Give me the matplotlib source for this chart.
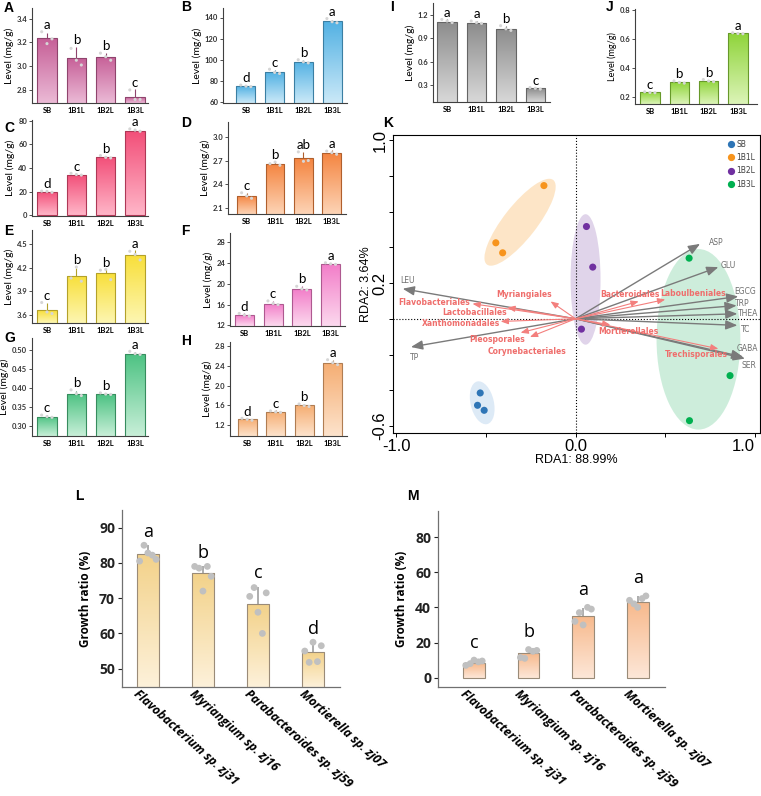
import numpy as np
import matplotlib
matplotlib.use('Agg')
import matplotlib.pyplot as plt
from matplotlib.colors import LinearSegmentedColormap, to_rgb
from matplotlib.patches import Ellipse
from matplotlib.lines import Line2D

plt.rcParams['font.family'] = ['Lato', 'DejaVu Sans']

groups = ['SB', '1B1L', '1B2L', '1B3L']

# ---- panels A-J (level, mg/g) ----
a_means = [3.235, 3.07, 3.08, 2.74]
a_err = [0.045, 0.09, 0.03, 0.065]
a_dots = [[3.29, 3.23, 3.19], [3.15, 3.01, 3.05], [3.11, 3.05, 3.08], [2.80, 2.72, 2.72]]
a_let = ['a', 'b', 'b', 'c']

b_means = [75, 88, 98, 136.5]
b_err = [1.0, 2.0, 2.0, 1.0]
b_dots = [[76, 74.5, 75], [91, 87, 88], [100, 97, 98], [139, 135, 136]]
b_let = ['d', 'c', 'b', 'a']

c_means = [20, 34.5, 49, 71.5]
c_err = [0.8, 1.0, 1.5, 1.5]
c_dots = [[20.5, 19.5, 20.3], [35.5, 34, 34.5], [50.5, 48.5, 49], [73, 71, 72]]
c_let = ['d', 'c', 'b', 'a']

d_means = [2.25, 2.66, 2.73, 2.80]
d_err = [0.04, 0.02, 0.08, 0.03]
d_dots = [[2.29, 2.22, 2.25], [2.66, 2.64, 2.68], [2.81, 2.70, 2.69], [2.82, 2.78, 2.80]]
d_let = ['c', 'b', 'ab', 'a']

e_means = [3.66, 4.10, 4.13, 4.36]
e_err = [0.09, 0.10, 0.05, 0.06]
e_dots = [[3.76, 3.62, 3.64], [4.07, 4.03, 4.21], [4.17, 4.05, 4.18], [4.41, 4.30, 4.37]]
e_let = ['c', 'b', 'b', 'a']

f_means = [14.0, 16.2, 19.0, 23.8]
f_err = [0.3, 0.5, 0.6, 0.15]
f_dots = [[14.3, 13.8, 14.0], [16.7, 16.0, 16.2], [19.5, 18.8, 19.0], [24.0, 23.7, 23.8]]
f_let = ['d', 'c', 'b', 'a']

g_means = [0.325, 0.385, 0.384, 0.490]
g_err = [0.003, 0.008, 0.003, 0.004]
g_dots = [[0.329, 0.323, 0.325], [0.395, 0.380, 0.385], [0.387, 0.383, 0.384], [0.496, 0.488, 0.490]]
g_let = ['c', 'b', 'b', 'a']

h_means = [1.32, 1.47, 1.60, 2.47]
h_err = [0.02, 0.03, 0.03, 0.05]
h_dots = [[1.34, 1.30, 1.32], [1.49, 1.46, 1.47], [1.63, 1.58, 1.60], [2.53, 2.43, 2.47]]
h_let = ['d', 'c', 'b', 'a']

i_means = [1.11, 1.10, 1.02, 0.26]
i_err = [0.03, 0.02, 0.04, 0.01]
i_dots = [[1.14, 1.10, 1.12], [1.12, 1.09, 1.10], [1.06, 1.00, 1.02], [0.27, 0.25, 0.26]]
i_let = ['a', 'a', 'b', 'c']

j_means = [0.23, 0.30, 0.31, 0.64]
j_err = [0.005, 0.01, 0.01, 0.005]
j_dots = [[0.235, 0.228, 0.230], [0.310, 0.295, 0.300], [0.320, 0.305, 0.310], [0.645, 0.638, 0.640]]
j_let = ['c', 'b', 'b', 'a']

# ---- panel K (RDA) ----
sb_x, sb_y = [-0.531, -0.546, -0.509], [-0.415, -0.484, -0.512]
b1_x, b1_y = [-0.176, -0.444, -0.406], [0.745, 0.425, 0.369]
b2_x, b2_y = [0.061, 0.096, 0.033], [0.516, 0.289, -0.058]
b3_x, b3_y = [0.633, 0.861, 0.635], [0.339, -0.318, -0.570]

env_names = ['ASP', 'GLU', 'EGCG', 'TRP', 'THEA', 'TC', 'GABA', 'SER', 'LEU', 'TP']
env_x = [0.694, 0.796, 0.907, 0.898, 0.902, 0.902, 0.935, 0.944, -0.963, -0.917]
env_y = [0.419, 0.289, 0.125, 0.074, 0.028, -0.037, -0.214, -0.223, 0.168, -0.158]

tax_names = ['Flavobacteriales', 'Lactobacillales', 'Xanthomonadales', 'Myriangiales',
             'Pleosporales', 'Corynebacteriales', 'Bacteroidales', 'Laboulbeniales',
             'Mortierellales', 'Trechisporales']
tax_x = [-0.574, -0.380, -0.417, -0.139, -0.306, -0.254, 0.352, 0.500, 0.194, 0.796]
tax_y = [0.084, 0.063, -0.015, 0.097, -0.078, -0.102, 0.097, 0.108, -0.034, -0.168]

# ---- panels L, M (growth ratio %) ----
strains = ['Flavobacterium sp. zj31', 'Myriangium sp. zj16',
           'Parabacteroides sp. zj59', 'Mortierella sp. zj07']
l_means = [82.5, 77.0, 68.3, 54.6]
l_err = [2.5, 2.2, 5.0, 2.8]
l_dots = [[80.5, 85.0, 82.8, 82.2, 81.0], [79.0, 78.5, 72.0, 79.0, 76.2],
          [70.5, 73.0, 66.0, 60.0, 71.5], [55.0, 51.8, 57.5, 52.0, 56.5]]
l_let = ['a', 'b', 'c', 'd']

m_means = [8.5, 13.8, 35.3, 43.2]
m_err = [1.5, 2.0, 4.5, 3.5]
m_dots = [[7.0, 8.0, 10.0, 9.0, 9.5], [11.5, 11.0, 16.0, 15.0, 15.5],
          [32.0, 37.0, 30.0, 40.0, 39.0], [44.0, 42.0, 40.0, 45.0, 46.5]]
m_let = ['c', 'b', 'a', 'a']

W, H = 761, 796
fig = plt.figure(figsize=(W / 100, H / 100), dpi=100)


def px_ax(x0, y0, x1, y1):
    return fig.add_axes([x0 / W, 1 - y1 / H, (x1 - x0) / W, (y1 - y0) / H])


def darker(c, f=0.72):
    r, g, b = to_rgb(c)
    return (r * f, g * f, b * f)


def grad_bars(ax, x, vals, top, bottom, width, edge, lw=0.8):
    bars = ax.bar(x, vals, width, color='none', edgecolor=edge, linewidth=lw, zorder=3)
    cmap = LinearSegmentedColormap.from_list('g', [bottom, top])
    grad = np.linspace(0, 1, 200).reshape(-1, 1)
    y0 = max(ax.get_ylim()[0], 0)
    for b in bars:
        im = ax.imshow(grad, extent=[b.get_x(), b.get_x() + b.get_width(), y0, b.get_height()],
                       origin='lower', aspect='auto', cmap=cmap, zorder=2)
        im.set_clip_path(b)
    return bars


def style_spines(ax, col='#404040', lw=0.8):
    for s in ['top', 'right']:
        ax.spines[s].set_visible(False)
    for s in ['left', 'bottom']:
        ax.spines[s].set_color(col)
        ax.spines[s].set_linewidth(lw)


def level_panel(box, xlim, means, err, dots, letters, yticks, fmt, ylim, top, bottom, ylab_fs=7.5):
    ax = px_ax(*box)
    ax.set_ylim(ylim)
    x = np.arange(4)
    edge = darker(top)
    grad_bars(ax, x, means, top, bottom, 0.66, edge)
    ax.errorbar(x, means, yerr=[np.zeros(4), err], fmt='none', ecolor=edge,
                elinewidth=0.8, capsize=0, zorder=4)
    for i, d in enumerate(dots):
        ax.scatter(i + np.array([-0.18, 0.17, 0.0]), d, s=5, color='#d6d6d6',
                   edgecolor='none', zorder=5)
        ax.annotate(letters[i], (i, max(means[i] + err[i], max(dots[i]))),
                    xytext=(0, 0.5), textcoords='offset points',
                    ha='center', va='bottom', fontsize=9.5)
    ax.set_xlim(xlim)
    ax.set_ylim(ylim)
    ax.set_yticks(yticks)
    ax.set_yticklabels([fmt % t for t in yticks], fontsize=5.5, fontweight='bold')
    ax.set_xticks(x)
    ax.set_xticklabels(groups, fontsize=5.5, fontweight='bold')
    ax.tick_params(axis='y', length=2, width=0.6, pad=1.5, colors='#333333')
    ax.tick_params(axis='x', length=0, pad=3)
    ax.set_ylabel('Level (mg/g)', fontsize=ylab_fs, labelpad=2)
    style_spines(ax)
    return ax


level_panel((32, 8, 148, 103), (-0.51, 3.44), a_means, a_err, a_dots, a_let,
            [2.8, 3.0, 3.2, 3.4], '%.1f', (2.69, 3.49), '#c65f97', '#ebbad6')
level_panel((223, 8, 347, 103), (-0.8, 3.52), b_means, b_err, b_dots, b_let,
            [60, 80, 100, 120, 140], '%d', (59, 149), '#52b1e3', '#cbe9f8')
level_panel((32, 120, 148, 216), (-0.51, 3.44), c_means, c_err, c_dots, c_let,
            [0, 20, 40, 60, 80], '%d', (-0.5, 80.5), '#f24e78', '#ffb6c8')
level_panel((228, 122, 346, 214), (-0.66, 3.5), d_means, d_err, d_dots, d_let,
            [2.1, 2.4, 2.7, 3.0], '%.1f', (2.02, 3.19), '#f4843f', '#fdd4b6')
level_panel((32, 230, 148, 323), (-0.51, 3.44), e_means, e_err, e_dots, e_let,
            [3.6, 3.9, 4.2, 4.5], '%.1f', (3.5, 4.68), '#f8df3a', '#fdf6b2')
level_panel((230, 233, 345, 326), (-0.5, 3.5), f_means, f_err, f_dots, f_let,
            [12, 16, 20, 24, 28], '%d', (11.9, 29.7), '#f27cc8', '#fcd9ee')
level_panel((32, 338, 148, 436), (-0.51, 3.44), g_means, g_err, g_dots, g_let,
            [0.30, 0.35, 0.40, 0.45, 0.50], '%.2f', (0.274, 0.531), '#4cc282', '#c8efd8')
level_panel((230, 342, 347, 436), (-0.6, 3.5), h_means, h_err, h_dots, h_let,
            [1.2, 1.6, 2.0, 2.4, 2.8], '%.1f', (0.98, 2.89), '#f5ad72', '#fde3cc')
level_panel((433, 3, 550, 102), (-0.48, 3.5), i_means, i_err, i_dots, i_let,
            [0.3, 0.6, 0.9, 1.2], '%.1f', (0.085, 1.35), '#8c8c8c', '#d8d8d8')
level_panel((635, 9, 757, 104), (-0.51, 3.65), j_means, j_err, j_dots, j_let,
            [0.2, 0.4, 0.6, 0.8], '%.1f', (0.15, 0.81), '#8fd43a', '#dcf4b8', ylab_fs=6.5)

tags = {'A': (4, 8), 'B': (181, 7), 'C': (4, 128), 'D': (181, 123), 'E': (4, 231),
        'F': (181, 231), 'G': (4, 338), 'H': (181, 341), 'I': (390, 7), 'J': (606, 7),
        'K': (383, 123), 'L': (75, 496), 'M': (407, 496)}
for t, (tx, ty) in tags.items():
    fig.text(tx / W, 1 - ty / H, t, fontsize=10, fontweight='bold', ha='left', va='center',
             family='Liberation Sans')

# ---- K: RDA biplot ----
axk = px_ax(393, 135, 760, 433)
axk.set_xlim(-1.017, 1.028)
axk.set_ylim(-0.639, 1.028)
ells = [((-0.52, -0.47), 0.245, 0.13, 103, '#dae8f6'),
        ((-0.309, 0.540), 0.60, 0.185, 52, '#fde3c1'),
        ((0.056, 0.22), 0.167, 0.73, 0, '#ddd0e8'),
        ((0.685, -0.115), 0.467, 1.01, 0, '#c8ecd8')]
for c, w, h, ang, col in ells:
    axk.add_patch(Ellipse(c, w, h, angle=ang, facecolor=col, edgecolor='none', alpha=0.9, zorder=1))
axk.axhline(0, color='black', ls=':', lw=0.8, zorder=2)
axk.axvline(0, color='black', ls=':', lw=0.8, zorder=2)

for xx, yy in zip(env_x, env_y):
    axk.annotate('', xy=(xx, yy), xytext=(0, 0),
                 arrowprops=dict(arrowstyle='-|>,head_length=0.7,head_width=0.28',
                                 color='#7a7a7a', lw=1.0, shrinkA=0, shrinkB=0), zorder=3)
env_lab = [(0.741, 0.428), (0.809, 0.298), (0.885, 0.153), (0.889, 0.086), (0.907, 0.032),
           (0.922, -0.061), (0.898, -0.168), (0.926, -0.264), (-0.978, 0.214), (-0.920, -0.214)]
for name, (lx, ly) in zip(env_names, env_lab):
    axk.text(lx, ly, name, fontsize=5.5, color='#6f6f6f', ha='left', va='center',
             family='DejaVu Sans', zorder=6)

for xx, yy in zip(tax_x, tax_y):
    axk.annotate('', xy=(xx, yy), xytext=(0, 0),
                 arrowprops=dict(arrowstyle='-|>,head_length=0.45,head_width=0.18',
                                 color='#f37f7d', lw=0.8, shrinkA=0, shrinkB=0), zorder=4)
tax_lab = [(-0.787, 0.089), (-0.561, 0.034), (-0.639, -0.028), (-0.287, 0.136),
           (-0.439, -0.115), (-0.269, -0.182), (0.306, 0.134), (0.657, 0.143),
           (0.296, -0.069), (0.672, -0.201)]
for name, (lx, ly) in zip(tax_names, tax_lab):
    axk.text(lx, ly, name, fontsize=5.5, color='#ef6e6c', fontweight='bold', ha='center',
             va='center', family='DejaVu Sans', zorder=6)

pcols = ['#2e75b6', '#f7941d', '#7030a0', '#00b050']
for (xs, ys), col in zip([(sb_x, sb_y), (b1_x, b1_y), (b2_x, b2_y), (b3_x, b3_y)], pcols):
    axk.scatter(xs, ys, s=26, color=col, edgecolor='none', zorder=5)
handles = [Line2D([], [], marker='o', ls='none', color=c, markersize=4.2) for c in pcols]
leg = axk.legend(handles, groups, loc='upper right', frameon=False, handletextpad=0.2,
                 labelspacing=0.55, borderaxespad=0.25, handlelength=1.0,
                 prop={'family': 'DejaVu Sans', 'size': 5.5})
for t in leg.get_texts():
    t.set_color('#404040')

axk.set_xticks([-1.0, -0.5, 0.0, 0.5, 1.0])
axk.set_xticklabels(['-1.0', '', '0.0', '', '1.0'], fontsize=12, family='Liberation Sans')
axk.get_xticklabels()[-1].set_horizontalalignment('right')
yt = [-0.6, -0.4, -0.2, 0.0, 0.2, 0.4, 0.6, 0.8, 1.0]
axk.set_yticks(yt)
axk.set_yticklabels(['-0.6', '', '', '', '0.2', '', '', '', '1.0'], fontsize=12,
                    rotation=90, va='center', family='Liberation Sans')
axk.tick_params(length=3, width=0.7, pad=1)
axk.set_xlabel('RDA1: 88.99%', fontsize=9, family='Liberation Sans', labelpad=0)
axk.set_ylabel('RDA2: 3.64%', fontsize=9, family='Liberation Sans', labelpad=0)
for s in axk.spines.values():
    s.set_linewidth(0.8)


# ---- L, M: growth ratio ----
def growth_panel(box, xlim, means, err, dots, letters, yticks, ylim, top, bottom, lpad):
    ax = px_ax(*box)
    ax.set_ylim(ylim)
    x = np.arange(4)
    edge = '#9a8b78'
    grad_bars(ax, x, means, top, bottom, 0.4, edge, lw=0.8)
    ax.errorbar(x, means, yerr=[np.zeros(4), err], fmt='none', ecolor='#9e9e9e',
                elinewidth=1.2, capsize=0, zorder=4)
    offs = np.array([-0.15, -0.07, 0.0, 0.08, 0.15])
    for i, d in enumerate(dots):
        ax.scatter(i + offs, d, s=24, color='#c0c0c0', edgecolor='none', zorder=5)
        ax.annotate(letters[i], (i, max(means[i] + err[i], max(dots[i]))),
                    xytext=(0, lpad), textcoords='offset points',
                    ha='center', va='bottom', fontsize=13, family='Open Sans')
    ax.set_xlim(xlim)
    ax.set_ylim(ylim)
    ax.set_yticks(yticks)
    ax.set_yticklabels([str(t) for t in yticks], fontsize=10, fontweight='bold', family='Open Sans')
    ax.set_xticks(x - 0.14)
    ax.set_xticklabels(strains, rotation=-42, ha='left', va='top', rotation_mode='anchor',
                       fontsize=8.8, fontweight='bold', fontstyle='italic', family='Open Sans')
    ax.tick_params(axis='y', length=3, width=0.8, pad=2, colors='#222222')
    ax.tick_params(axis='x', length=0, pad=0.5)
    ax.set_ylabel('Growth ratio (%)', fontsize=8.5, fontweight='bold', family='Open Sans', labelpad=5)
    style_spines(ax, col='#707070', lw=0.9)
    return ax


growth_panel((122, 510, 340, 687), (-0.47, 3.49), l_means, l_err, l_dots, l_let,
             [50, 60, 70, 80, 90], (44.8, 95), '#f3d28a', '#fdf1da', 3)
growth_panel((438, 511, 665, 687), (-0.66, 3.5), m_means, m_err, m_dots, m_let,
             [0, 20, 40, 60, 80], (-5.3, 94.8), '#f7b98c', '#fde7d8', 6)

fig.savefig('out.png', dpi=100)
